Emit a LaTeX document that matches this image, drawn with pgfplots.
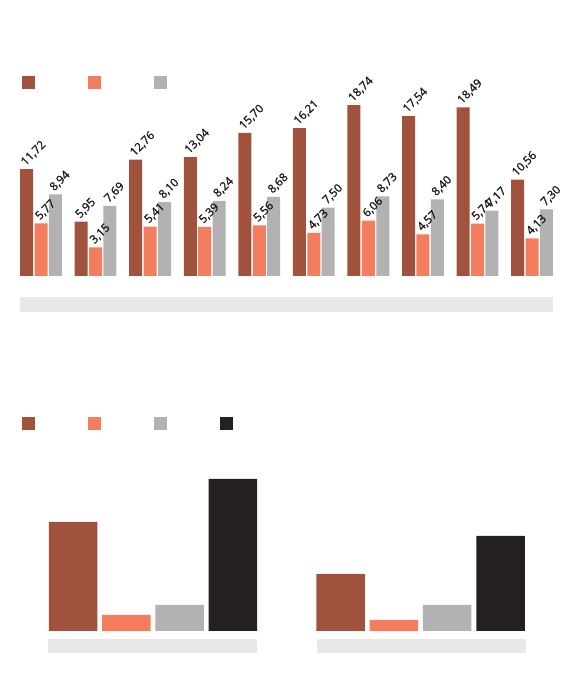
\documentclass[border=0pt]{standalone}
\usepackage{pgfplots}
\pgfplotsset{compat=1.18}
\usepackage{fontspec}
\setmainfont{Open Sans}
\newfontfamily\lab{Open Sans}[FakeBold=1.2]
\definecolor{cA}{RGB}{160,82,61}
\definecolor{cB}{RGB}{243,125,92}
\definecolor{cC}{RGB}{178,178,178}
\definecolor{cD}{RGB}{36,32,33}
\definecolor{strip}{RGB}{232,232,232}
\begin{document}
\begin{tikzpicture}[x=1pt,y=1pt]
\useasboundingbox[fill=white] (0,0) rectangle (572,695);
\fill[strip] (20,398) rectangle (553,383.3);
\fill[strip] (48,56) rectangle (257,42);
\fill[strip] (317,56) rectangle (526,42);

\begin{axis}[
  at={(0pt,419pt)}, anchor=south west, scale only axis,
  width=572pt, height=216pt,
  xmin=-0.7515, xmax=9.732, ymin=0, ymax=23.684,
  axis lines=none, clip=false,
  ybar=1.4pt, bar width=13pt,
  legend image code/.code={\fill[#1] (0pt,-6.5pt) rectangle (13pt,6.5pt);},
  legend columns=-1,
  legend style={at={(0.03846,0.898)}, anchor=west, draw=none, fill=none,
    inner sep=0pt, outer sep=0pt, nodes={inner sep=0pt},
    /tikz/every even column/.append style={column sep=52pt}},
  nodes near coords,
  every node near coord/.append style={rotate=45, anchor=south west, inner sep=1.2pt,
    font=\lab\fontsize{11.5}{12}\selectfont, text=black!90},
  /pgf/number format/.cd, fixed, fixed zerofill, precision=2, use comma, assume math mode=true
]
\addplot[fill=cA, draw=none] coordinates {(0,11.72) (1,5.95) (2,12.76) (3,13.04) (4,15.70) (5,16.21) (6,18.74) (7,17.54) (8,18.49) (9,10.56)};
\addlegendentry{}
\addplot[fill=cB, draw=none] coordinates {(0,5.77) (1,3.15) (2,5.41) (3,5.39) (4,5.56) (5,4.73) (6,6.06) (7,4.57) (8,5.74) (9,4.13)};
\addlegendentry{}
\addplot[fill=cC, draw=none] coordinates {(0,8.94) (1,7.69) (2,8.10) (3,8.24) (4,8.68) (5,7.50) (6,8.73) (7,8.40) (8,7.17) (9,7.30)};
\addlegendentry{}
\end{axis}

\begin{axis}[
  at={(0pt,64pt)}, anchor=south west, scale only axis,
  width=572pt, height=231pt,
  xmin=-0.572, xmax=1.566, ymin=0, ymax=231,
  axis lines=none, clip=false,
  ybar=4.8pt, bar width=48.5pt,
  legend image code/.code={\fill[#1] (0pt,-6.5pt) rectangle (13pt,6.5pt);},
  legend columns=-1,
  legend style={at={(0.03846,0.898)}, anchor=west, draw=none, fill=none,
    inner sep=0pt, outer sep=0pt, nodes={inner sep=0pt},
    /tikz/every even column/.append style={column sep=52pt}},
]
\addplot[fill=cA, draw=none] coordinates {(0,109) (1,57)};
\addlegendentry{}
\addplot[fill=cB, draw=none] coordinates {(0,16) (1,11)};
\addlegendentry{}
\addplot[fill=cC, draw=none] coordinates {(0,26) (1,26)};
\addlegendentry{\hspace*{-3pt}}
\addplot[fill=cD, draw=none] coordinates {(0,152) (1,95)};
\addlegendentry{}
\end{axis}
\end{tikzpicture}
\end{document}
